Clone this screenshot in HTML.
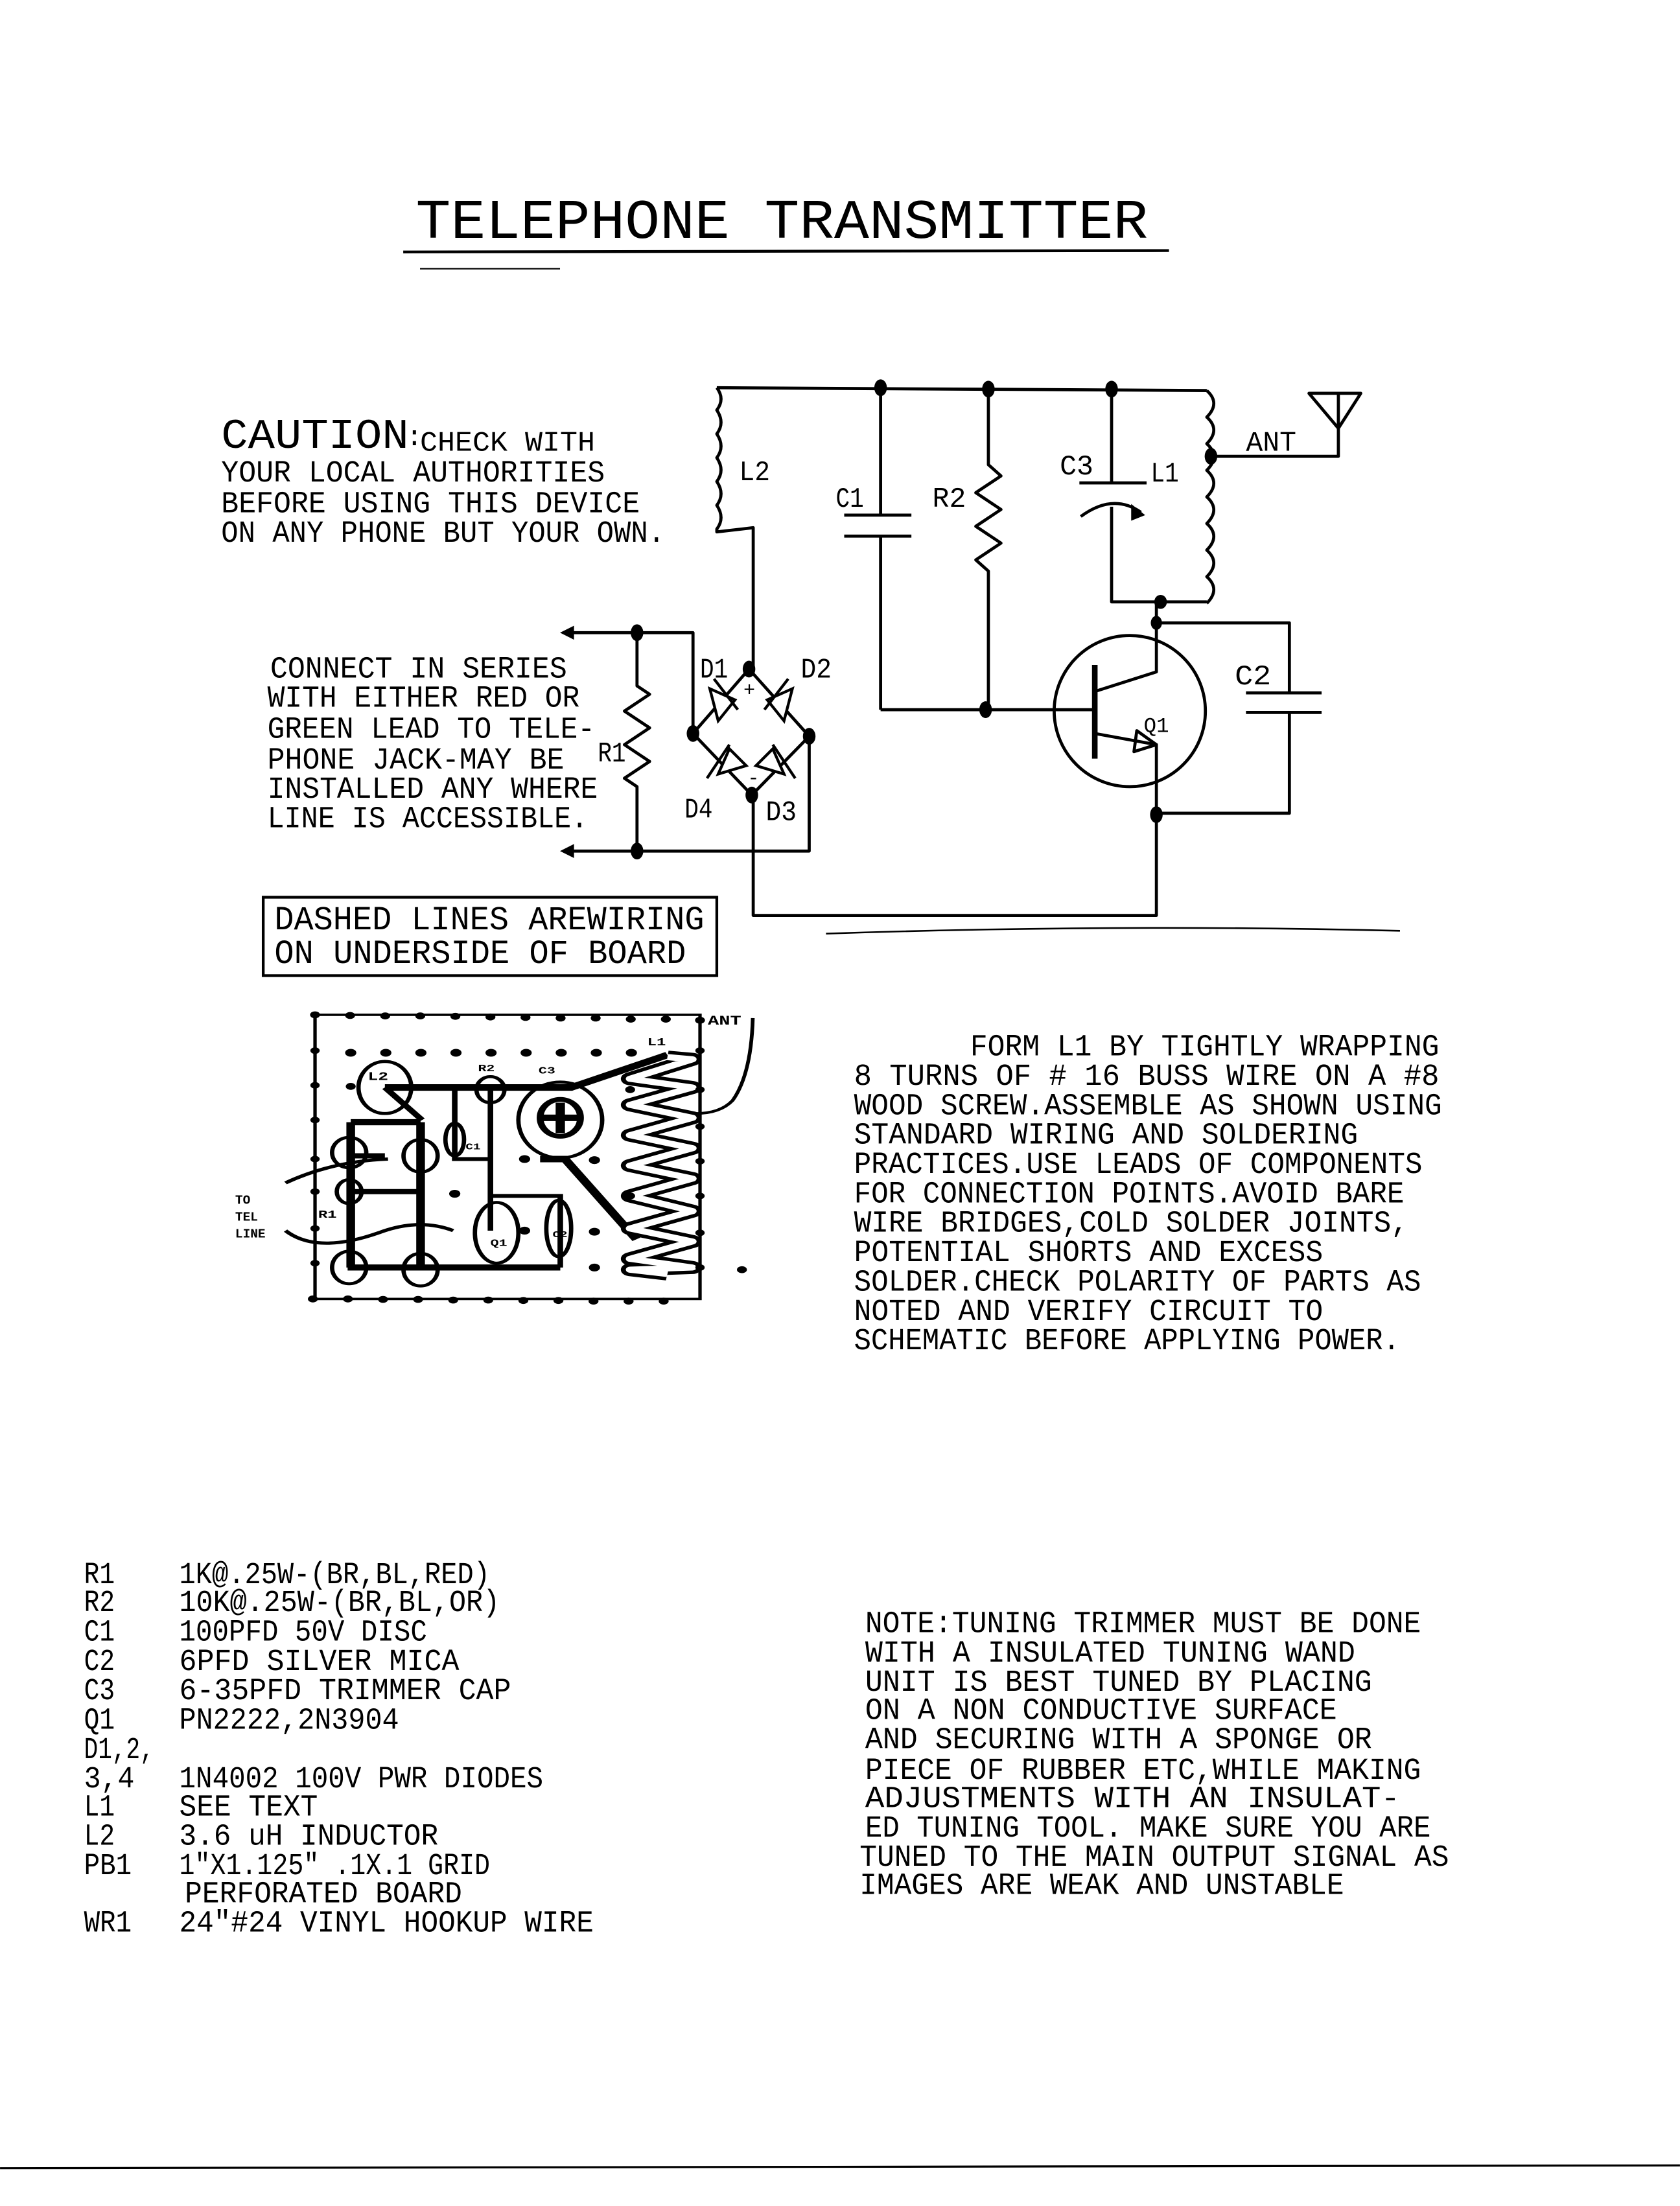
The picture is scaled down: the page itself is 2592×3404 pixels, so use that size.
<!DOCTYPE html>
<html><head><meta charset="utf-8"><style>
html,body{margin:0;padding:0;background:#fff}
svg{display:block}
text{font-family:"Liberation Mono",monospace;fill:#000}
</style></head><body>
<svg width="2592" height="3404" viewBox="0 0 1200 1576" xmlns="http://www.w3.org/2000/svg">
<rect width="1200" height="1576" fill="#fff"/>
<text x="297" y="170" font-size="40" textLength="523" lengthAdjust="spacingAndGlyphs">TELEPHONE TRANSMITTER</text>
<line x1="288" y1="180" x2="835" y2="179" stroke="#000" stroke-width="2"/>
<line x1="300" y1="192" x2="400" y2="192" stroke="#000" stroke-width="1"/>

<text x="158" y="320" font-size="30" textLength="134" lengthAdjust="spacingAndGlyphs">CAUTION</text>
<text x="290" y="318" font-size="20">:</text>
<text x="300" y="322" font-size="20" textLength="125" lengthAdjust="spacingAndGlyphs">CHECK WITH</text>
<text x="158" y="344" font-size="22" textLength="274" lengthAdjust="spacingAndGlyphs">YOUR LOCAL AUTHORITIES</text>
<text x="158" y="366" font-size="22" textLength="299" lengthAdjust="spacingAndGlyphs">BEFORE USING THIS DEVICE</text>
<text x="158" y="387" font-size="22" textLength="317" lengthAdjust="spacingAndGlyphs">ON ANY PHONE BUT YOUR OWN.</text>

<g font-size="22">
<text x="193" y="484" textLength="212" lengthAdjust="spacingAndGlyphs">CONNECT IN SERIES</text>
<text x="191" y="505" textLength="223" lengthAdjust="spacingAndGlyphs">WITH EITHER RED OR</text>
<text x="191" y="527" textLength="234" lengthAdjust="spacingAndGlyphs">GREEN LEAD TO TELE-</text>
<text x="191" y="549" textLength="212" lengthAdjust="spacingAndGlyphs">PHONE JACK-MAY BE</text>
<text x="191" y="570" textLength="236" lengthAdjust="spacingAndGlyphs">INSTALLED ANY WHERE</text>
<text x="191" y="591" textLength="229" lengthAdjust="spacingAndGlyphs">LINE IS ACCESSIBLE.</text>
</g>

<rect x="188" y="641" width="324" height="56" fill="none" stroke="#000" stroke-width="2"/>
<text x="196" y="664" font-size="24" textLength="307" lengthAdjust="spacingAndGlyphs">DASHED LINES AREWIRING</text>
<text x="196" y="688" font-size="24" textLength="294" lengthAdjust="spacingAndGlyphs">ON UNDERSIDE OF BOARD</text>

<g fill="none" stroke="#000" stroke-width="2.2" stroke-linejoin="round">
<line x1="512" y1="277" x2="862" y2="279"/>
<path d="M512,277 q6,8 0,16 q6,9 0,17 q6,9 0,17 q6,9 0,17 q6,9 0,17 q6,9 0,17 l0,2 L538,377 L538,478"/>
<path d="M629,277 V368 M603,368 H651 M603,383 H651 M629,383 V507"/>
<path d="M706,277 V332 l9,8 l-18,12 l18,12 l-18,12 l18,12 l-18,12 l9,8 V507"/>
<path d="M794,277 V345 M771,345 H819 M794,362 V430 H862"/>
<path d="M772,369 Q795,352 815,366"/>
<path d="M862,279 q10,9 0,19 q10,9 0,19 q10,9 0,19 q10,9 0,19 q10,9 0,19 q10,9 0,19 q10,9 0,19 q10,9 0,19"/>
<path d="M862,326 H956 V306 M935,281 H972 L956,306 Z M956,281 V306"/>
<path d="M629,507 H782"/>
<circle cx="807" cy="508" r="54"/>
<path d="M782,475 V542" stroke-width="4"/>
<path d="M782,494 L826,480 V430 M826,445 H921 V495 M890,495 H944 M890,509 H944 M921,509 V581 H826"/>
<path d="M782,524 L826,532 V654 H538 V568"/>
<path d="M812,522 L826,532 L810,537 Z"/>
<path d="M455,452 H495 V524 M455,608 H578 V526"/>
<path d="M535,478 L495,524 L537,568 L578,526 Z"/>
<path d="M455,452 V490 l9,6 l-18,12 l18,12 l-18,12 l18,12 l-18,12 l9,6 V608"/>
<path d="M455,452 H404 M455,608 H404"/>
</g>
<path d="M400,452 l10,-5 v10 Z M400,608 l10,-5 v10 Z" fill="#000"/>
<g fill="#fff" stroke="#000" stroke-width="2">
<path d="M507,492 l18,8 l-12,15 Z"/><line x1="510" y1="485" x2="527" y2="507"/>
<path d="M566,492 l-18,8 l12,15 Z"/><line x1="563" y1="485" x2="546" y2="507"/>
<path d="M513,553 l8,-18 l12,12 Z"/><line x1="505" y1="556" x2="521" y2="532"/>
<path d="M560,553 l-8,-18 l-12,12 Z"/><line x1="568" y1="556" x2="552" y2="532"/>
</g>
<path d="M818,368 l-10,-8 l0,12 Z" fill="#000"/>
<g fill="#000">
<ellipse cx="629" cy="277" rx="4.5" ry="6"/><ellipse cx="706" cy="278" rx="4.5" ry="6"/><ellipse cx="794" cy="278" rx="4.5" ry="6"/>
<ellipse cx="865" cy="326" rx="4.5" ry="6"/>
<ellipse cx="829" cy="430" rx="4.5" ry="5"/><ellipse cx="826" cy="445" rx="4" ry="5"/>
<ellipse cx="704" cy="507" rx="4.5" ry="6"/>
<ellipse cx="826" cy="582" rx="4.5" ry="6"/>
<ellipse cx="455" cy="452" rx="4.5" ry="6"/><ellipse cx="455" cy="608" rx="4.5" ry="6"/>
<ellipse cx="535" cy="478" rx="4.5" ry="6"/><ellipse cx="537" cy="568" rx="4.5" ry="6"/>
<ellipse cx="495" cy="524" rx="4.5" ry="6"/><ellipse cx="578" cy="526" rx="4.5" ry="6"/>
</g>
<g font-size="20">
<text x="528" y="343" textLength="22" lengthAdjust="spacingAndGlyphs">L2</text>
<text x="597" y="362" textLength="20" lengthAdjust="spacingAndGlyphs">C1</text>
<text x="666" y="362" textLength="24" lengthAdjust="spacingAndGlyphs">R2</text>
<text x="757" y="339" textLength="24" lengthAdjust="spacingAndGlyphs">C3</text>
<text x="822" y="344" textLength="20" lengthAdjust="spacingAndGlyphs">L1</text>
<text x="890" y="322" textLength="36" lengthAdjust="spacingAndGlyphs">ANT</text>
<text x="500" y="484" font-family="Liberation Serif" textLength="20" lengthAdjust="spacingAndGlyphs">D1</text>
<text x="572" y="484" font-family="Liberation Serif" textLength="22" lengthAdjust="spacingAndGlyphs">D2</text>
<text x="427" y="544" textLength="20" lengthAdjust="spacingAndGlyphs">R1</text>
<text x="489" y="584" font-family="Liberation Serif" textLength="20" lengthAdjust="spacingAndGlyphs">D4</text>
<text x="547" y="586" font-family="Liberation Serif" textLength="22" lengthAdjust="spacingAndGlyphs">D3</text>
<text x="882" y="489" textLength="26" lengthAdjust="spacingAndGlyphs">C2</text>
<text x="817" y="523" font-size="15" textLength="18" lengthAdjust="spacingAndGlyphs">Q1</text>
<text x="531" y="497" font-size="14">+</text>
<text x="534" y="560" font-size="14">-</text>
</g>
<path d="M590,667 Q800,660 1000,665" fill="none" stroke="#000" stroke-width="1.2"/>

<svg x="225" y="725" width="275" height="203" viewBox="95 125 1240 1310" preserveAspectRatio="none" overflow="visible">
<g fill="none" stroke="#000" stroke-width="14">
<rect x="95" y="125" width="1240" height="1310" stroke-width="11"/>
<path d="M1505,140 Q1500,400 1440,520 Q1400,580 1320,580" stroke-width="12"/>
<ellipse cx="320" cy="460" rx="85" ry="120"/>
<path d="M320,460 H920 L1230,310" stroke-width="30"/>
<path d="M320,460 L440,610" stroke-width="22"/>
<ellipse cx="660" cy="470" rx="45" ry="60"/>
<ellipse cx="885" cy="610" rx="135" ry="175"/>
<ellipse cx="885" cy="600" rx="65" ry="85" stroke-width="22"/>
<path d="M885,530 V670 M830,600 H940" stroke-width="30"/>
<ellipse cx="545" cy="700" rx="30" ry="75"/>
<path d="M545,460 V790 H660 M660,460 V1120" stroke-width="18"/>
<path d="M210,620 H435 M210,620 V1290 M435,620 V1290 M200,1290 H885" stroke-width="28"/>
<path d="M210,940 H435 M205,775 H320" stroke-width="24"/>
<ellipse cx="205" cy="760" rx="55" ry="70"/>
<ellipse cx="435" cy="775" rx="55" ry="75"/>
<ellipse cx="205" cy="940" rx="40" ry="55"/>
<ellipse cx="205" cy="1290" rx="55" ry="75"/>
<ellipse cx="435" cy="1300" rx="55" ry="75"/>
<path d="M0,900 Q150,800 330,790" stroke-width="15"/>
<path d="M0,1120 Q100,1230 300,1130 Q430,1060 540,1120" stroke-width="15"/>
<ellipse cx="680" cy="1130" rx="70" ry="140"/>
<ellipse cx="880" cy="1110" rx="40" ry="130"/>
<path d="M660,960 H885 V1290" stroke-width="18"/>
<path d="M820,790 H900 L1130,1160" stroke-width="30"/>
<path d="M1230,320 L1310,330 L1110,420 L1310,460 L1110,540 L1310,600 L1110,680 L1310,740 L1110,820 L1310,880 L1110,960 L1310,1030 L1110,1110 L1310,1170 L1110,1250 L1310,1290 L1110,1300 L1230,1320" stroke-width="60" stroke-linejoin="round"/>
<path d="M1230,320 L1310,330 L1110,420 L1310,460 L1110,540 L1310,600 L1110,680 L1310,740 L1110,820 L1310,880 L1110,960 L1310,1030 L1110,1110 L1310,1170 L1110,1250 L1310,1290 L1110,1300 L1230,1320" stroke="#fff" stroke-width="28" stroke-linejoin="round"/>
</g>
<g fill="#000">
<circle cx="210" cy="300" r="18"/><circle cx="323" cy="300" r="18"/><circle cx="436" cy="300" r="18"/><circle cx="549" cy="300" r="18"/><circle cx="662" cy="300" r="18"/><circle cx="775" cy="300" r="18"/><circle cx="888" cy="300" r="18"/><circle cx="1001" cy="300" r="18"/><circle cx="1114" cy="300" r="18"/>
<circle cx="95" cy="125" r="16"/><circle cx="208" cy="128" r="16"/><circle cx="321" cy="130" r="16"/><circle cx="434" cy="130" r="16"/><circle cx="547" cy="132" r="16"/><circle cx="660" cy="135" r="16"/><circle cx="773" cy="137" r="16"/><circle cx="886" cy="140" r="16"/><circle cx="999" cy="140" r="16"/><circle cx="1112" cy="145" r="16"/><circle cx="1225" cy="145" r="16"/><circle cx="1335" cy="150" r="16"/>
<circle cx="88" cy="1435" r="16"/><circle cx="201" cy="1435" r="16"/><circle cx="314" cy="1437" r="16"/><circle cx="427" cy="1437" r="16"/><circle cx="540" cy="1440" r="16"/><circle cx="653" cy="1440" r="16"/><circle cx="766" cy="1442" r="16"/><circle cx="879" cy="1442" r="16"/><circle cx="992" cy="1445" r="16"/><circle cx="1105" cy="1445" r="16"/><circle cx="1218" cy="1445" r="16"/>
<circle cx="95" cy="290" r="15"/><circle cx="95" cy="450" r="15"/><circle cx="95" cy="610" r="15"/><circle cx="95" cy="790" r="15"/><circle cx="95" cy="940" r="15"/><circle cx="95" cy="1110" r="15"/><circle cx="95" cy="1270" r="15"/>
<circle cx="1335" cy="290" r="15"/><circle cx="1335" cy="470" r="15"/><circle cx="1335" cy="640" r="15"/><circle cx="1335" cy="800" r="15"/><circle cx="1335" cy="960" r="15"/><circle cx="1335" cy="1130" r="15"/><circle cx="1335" cy="1290" r="15"/>
<circle cx="210" cy="455" r="16"/><circle cx="770" cy="790" r="18"/><circle cx="995" cy="795" r="18"/><circle cx="545" cy="950" r="18"/><circle cx="770" cy="1120" r="18"/><circle cx="995" cy="1125" r="18"/><circle cx="995" cy="1290" r="18"/><circle cx="1110" cy="470" r="16"/><circle cx="1110" cy="960" r="16"/><circle cx="1470" cy="1300" r="16"/>
</g>
<g font-family="Liberation Sans" font-weight="bold">
<text x="1360" y="170" font-size="60">ANT</text>
<text x="1165" y="265" font-size="50">L1</text>
<text x="265" y="425" font-size="55">L2</text>
<text x="620" y="385" font-size="45">R2</text>
<text x="815" y="395" font-size="45">C3</text>
<text x="580" y="745" font-size="40">C1</text>
<text x="105" y="1060" font-size="50">R1</text>
<text x="660" y="1190" font-size="45">Q1</text>
<text x="860" y="1150" font-size="40">C2</text>
</g>
</svg>
<g font-family="Liberation Sans" font-weight="bold" font-size="9">
<text x="168" y="860">TO</text><text x="168" y="872">TEL</text><text x="168" y="884">LINE</text>
</g>

<g font-size="22">
<text x="693" y="754" textLength="335" lengthAdjust="spacingAndGlyphs">FORM L1 BY TIGHTLY WRAPPING</text>
<text x="610" y="775" textLength="418" lengthAdjust="spacingAndGlyphs">8 TURNS OF # 16 BUSS WIRE ON A #8</text>
<text x="610" y="796" textLength="420" lengthAdjust="spacingAndGlyphs">WOOD SCREW.ASSEMBLE AS SHOWN USING</text>
<text x="610" y="817" textLength="360" lengthAdjust="spacingAndGlyphs">STANDARD WIRING AND SOLDERING</text>
<text x="610" y="838" textLength="406" lengthAdjust="spacingAndGlyphs">PRACTICES.USE LEADS OF COMPONENTS</text>
<text x="610" y="859" textLength="393" lengthAdjust="spacingAndGlyphs">FOR CONNECTION POINTS.AVOID BARE</text>
<text x="610" y="880" textLength="396" lengthAdjust="spacingAndGlyphs">WIRE BRIDGES,COLD SOLDER JOINTS,</text>
<text x="610" y="901" textLength="335" lengthAdjust="spacingAndGlyphs">POTENTIAL SHORTS AND EXCESS</text>
<text x="610" y="922" textLength="405" lengthAdjust="spacingAndGlyphs">SOLDER.CHECK POLARITY OF PARTS AS</text>
<text x="610" y="943" textLength="335" lengthAdjust="spacingAndGlyphs">NOTED AND VERIFY CIRCUIT TO</text>
<text x="610" y="964" textLength="390" lengthAdjust="spacingAndGlyphs">SCHEMATIC BEFORE APPLYING POWER.</text>
</g>

<g font-size="22">
<text x="60" y="1131" textLength="22" lengthAdjust="spacingAndGlyphs">R1</text><text x="128" y="1131" textLength="222" lengthAdjust="spacingAndGlyphs">1K@.25W-(BR,BL,RED)</text>
<text x="60" y="1151" textLength="22" lengthAdjust="spacingAndGlyphs">R2</text><text x="128" y="1151" textLength="229" lengthAdjust="spacingAndGlyphs">10K@.25W-(BR,BL,OR)</text>
<text x="60" y="1172" textLength="22" lengthAdjust="spacingAndGlyphs">C1</text><text x="128" y="1172" textLength="177" lengthAdjust="spacingAndGlyphs">100PFD 50V DISC</text>
<text x="60" y="1193" textLength="22" lengthAdjust="spacingAndGlyphs">C2</text><text x="128" y="1193" textLength="200" lengthAdjust="spacingAndGlyphs">6PFD SILVER MICA</text>
<text x="60" y="1214" textLength="22" lengthAdjust="spacingAndGlyphs">C3</text><text x="128" y="1214" textLength="237" lengthAdjust="spacingAndGlyphs">6-35PFD TRIMMER CAP</text>
<text x="60" y="1235" textLength="22" lengthAdjust="spacingAndGlyphs">Q1</text><text x="128" y="1235" textLength="157" lengthAdjust="spacingAndGlyphs">PN2222,2N3904</text>
<text x="60" y="1256" textLength="50" lengthAdjust="spacingAndGlyphs">D1,2,</text>
<text x="60" y="1277" textLength="36" lengthAdjust="spacingAndGlyphs">3,4</text><text x="128" y="1277" textLength="260" lengthAdjust="spacingAndGlyphs">1N4002 100V PWR DIODES</text>
<text x="60" y="1297" textLength="22" lengthAdjust="spacingAndGlyphs">L1</text><text x="128" y="1297" textLength="99" lengthAdjust="spacingAndGlyphs">SEE TEXT</text>
<text x="60" y="1318" textLength="22" lengthAdjust="spacingAndGlyphs">L2</text><text x="128" y="1318" textLength="185" lengthAdjust="spacingAndGlyphs">3.6 uH INDUCTOR</text>
<text x="60" y="1339" textLength="34" lengthAdjust="spacingAndGlyphs">PB1</text><text x="128" y="1339" textLength="222" lengthAdjust="spacingAndGlyphs">1"X1.125" .1X.1 GRID</text>
<text x="132" y="1359" textLength="198" lengthAdjust="spacingAndGlyphs">PERFORATED BOARD</text>
<text x="60" y="1380" textLength="34" lengthAdjust="spacingAndGlyphs">WR1</text><text x="128" y="1380" textLength="296" lengthAdjust="spacingAndGlyphs">24"#24 VINYL HOOKUP WIRE</text>
</g>

<g font-size="22">
<text x="618" y="1166" textLength="397" lengthAdjust="spacingAndGlyphs">NOTE:TUNING TRIMMER MUST BE DONE</text>
<text x="618" y="1187" textLength="350" lengthAdjust="spacingAndGlyphs">WITH A INSULATED TUNING WAND</text>
<text x="618" y="1208" textLength="362" lengthAdjust="spacingAndGlyphs">UNIT IS BEST TUNED BY PLACING</text>
<text x="618" y="1228" textLength="337" lengthAdjust="spacingAndGlyphs">ON A NON CONDUCTIVE SURFACE</text>
<text x="618" y="1249" textLength="362" lengthAdjust="spacingAndGlyphs">AND SECURING WITH A SPONGE OR</text>
<text x="618" y="1271" textLength="397" lengthAdjust="spacingAndGlyphs">PIECE OF RUBBER ETC,WHILE MAKING</text>
<text x="618" y="1291" textLength="382" lengthAdjust="spacingAndGlyphs">ADJUSTMENTS  WITH AN  INSULAT-</text>
<text x="618" y="1312" textLength="404" lengthAdjust="spacingAndGlyphs">ED TUNING TOOL. MAKE SURE YOU ARE</text>
<text x="614" y="1333" textLength="421" lengthAdjust="spacingAndGlyphs">TUNED TO THE MAIN OUTPUT SIGNAL AS</text>
<text x="614" y="1353" textLength="346" lengthAdjust="spacingAndGlyphs">IMAGES ARE WEAK AND UNSTABLE</text>
</g>

<line x1="0" y1="1549" x2="1200" y2="1547" stroke="#000" stroke-width="1.5"/>
</svg>
</body></html>
